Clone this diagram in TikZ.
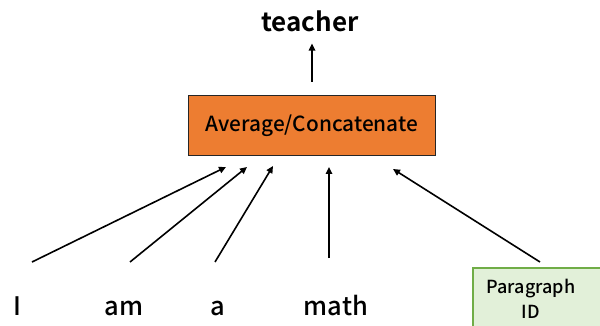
\documentclass[tikz,border=0pt]{standalone}
\usepackage{fontspec}
\setmainfont{Noto Sans CJK JP}[UprightFont=* Medium, BoldFont=* Bold]
\usetikzlibrary{arrows.meta}
\definecolor{boxcol}{HTML}{ED7D31}
\definecolor{idfill}{HTML}{E2F0D9}
\definecolor{iddraw}{HTML}{70AD47}
\tikzset{
  arrow/.style={-{Triangle[length=7pt,width=6.5pt]}, line width=1.6pt},
  word/.style={font=\fontsize{25.5}{28}\selectfont, inner sep=0pt, anchor=base}
}

\begin{document}
\begin{tikzpicture}[x=1pt, y=-1pt]

  % Page frame.
  \clip (0,0) rectangle (600,326);
  \useasboundingbox (0,0) rectangle (600,326);

  % Output word and combining box.
  \node[font=\fontsize{26}{28}\selectfont\bfseries, inner sep=0pt, anchor=base]
    (teacher) at (310,32) {teacher};
  \node[draw=black!85, line width=1.5pt, fill=boxcol, minimum width=247pt,
    minimum height=60pt, inner sep=0pt, font=\fontsize{20.8}{22}\selectfont]
    (combine) at (312,125.5) {Average/Concatenate};

  % Input words.
  \node[word] (wI)    at (17,315)  {I};
  \node[word] (wam)   at (124,315) {am};
  \node[word] (wa)    at (218,315) {a};
  \node[word] (wmath) at (336,315) {math};

  % Paragraph ID box (runs off the page).
  \draw[draw=iddraw, fill=idfill, line width=1.5pt] (473,268) rectangle (640,360);
  \node[align=center, inner sep=0pt, font=\fontsize{18}{25}\selectfont]
    (pid) at (531,299) {Paragraph\\ID};

  % Arrow ends.
  \coordinate (top)   at (312,82);
  \coordinate (tI)    at (32,262);
  \coordinate (tam)   at (130,262);
  \coordinate (ta)    at (215,262);
  \coordinate (tmath) at (329,258);
  \coordinate (tpid)  at (540,262);
  \coordinate (hI)    at (226,167);
  \coordinate (ham)   at (247,167);
  \coordinate (ha)    at (273,166);
  \coordinate (hmath) at (329,167);
  \coordinate (hpid)  at (393,169);

  % Arrows.
  \draw[arrow, shorten >=11pt] (top) -- (top |- teacher.south);
  \draw[arrow] (tI) -- (hI);
  \draw[arrow] (tam) -- (ham);
  \draw[arrow] (ta) -- (ha);
  \draw[arrow] (tmath) -- (hmath);
  \draw[arrow] (tpid) -- (hpid);

\end{tikzpicture}
\end{document}
